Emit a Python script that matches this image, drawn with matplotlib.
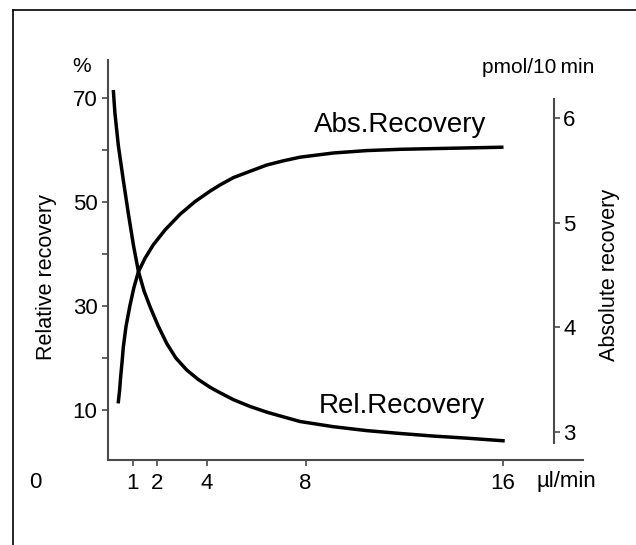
import matplotlib
matplotlib.use('Agg')
import matplotlib.pyplot as plt
from matplotlib.lines import Line2D

# ── Data ─────────────────────────────────────────────────────────────────────
FLOW_REL = [0.22, 0.28, 0.42, 0.62, 0.82, 1.03, 1.23, 1.46, 1.70, 2.03, 2.38, 2.75,
            3.19, 3.65, 4.13, 4.47, 5.08, 5.75, 6.43, 7.10, 7.78, 9.13, 10.48, 11.83,
            13.18, 14.53, 16.0]
REL_RECOVERY = [71.2, 67.1, 60.8, 54.2, 47.9, 41.7, 36.7, 32.9, 29.9, 26.2, 22.8, 20.0,
                17.7, 15.9, 14.4, 13.5, 12.0, 10.7, 9.6, 8.7, 7.8, 6.8, 6.05, 5.5,
                5.0, 4.6, 4.1]

FLOW_ABS = [0.42, 0.47, 0.51, 0.57, 0.62, 0.73, 0.89, 1.05, 1.23, 1.50, 1.84, 2.31,
            2.92, 3.52, 4.13, 4.54, 5.08, 5.75, 6.43, 7.10, 7.78, 9.13, 10.48, 11.83,
            13.85, 15.95]
ABS_RECOVERY = [3.29, 3.40, 3.52, 3.67, 3.81, 4.01, 4.21, 4.38, 4.53, 4.66, 4.79, 4.93,
                5.08, 5.20, 5.30, 5.36, 5.43, 5.49, 5.55, 5.59, 5.625, 5.665, 5.688, 5.70,
                5.71, 5.72]

X_TICKS = [1, 2, 4, 8, 16]
REL_TICKS = [10, 30, 50, 70]
REL_MINOR = [20, 40, 60]
ABS_TICKS = [3, 4, 5, 6]

W, H = 636, 545
FONT = 'Liberation Sans'
SPINE = '#4a4a4a'

plt.rcParams['font.family'] = [FONT, 'DejaVu Sans']


def fx(px):
    return px / W


def fy(py):
    return 1 - py / H


fig = plt.figure(figsize=(W / 100, H / 100), dpi=100)

# outer frame (only top and left edges visible)
fig.add_artist(Line2D([fx(13), fx(13)], [fy(10), 0], transform=fig.transFigure,
                      color='black', lw=1.2))
fig.add_artist(Line2D([fx(13), 1], [fy(10), fy(10)], transform=fig.transFigure,
                      color='black', lw=1.2))

ax = fig.add_axes([fx(108), fy(460), (583 - 108) / W, (460 - 60) / H])
ax.plot(FLOW_REL, REL_RECOVERY, color='black', lw=2.5, solid_joinstyle='round')
ax.set_xlim(0, 19.24)
ax.set_ylim(0.4, 77.3)
for s in ['top', 'right']:
    ax.spines[s].set_visible(False)
for s in ['left', 'bottom']:
    ax.spines[s].set_color(SPINE)
    ax.spines[s].set_linewidth(1.5)
ax.set_xticks(X_TICKS)
ax.set_xticklabels([str(t) for t in X_TICKS])
ax.set_yticks(REL_TICKS)
ax.set_yticks(REL_MINOR, minor=True)
ax.tick_params(which='both', direction='out', length=4.5, width=1.2, color=SPINE,
               labelsize=16, pad=3)
ax.tick_params(axis='x', pad=5)

ax2 = ax.twinx()
ax2.plot(FLOW_ABS, ABS_RECOVERY, color='black', lw=2.5, solid_joinstyle='round')
ax2.set_ylim(2.733, 6.553)
for s in ['top', 'left', 'bottom']:
    ax2.spines[s].set_visible(False)
ax2.spines['right'].set_position(('axes', (554 - 108) / (583 - 108)))
ax2.spines['right'].set_bounds(2.895, 6.18)
ax2.spines['right'].set_color(SPINE)
ax2.spines['right'].set_linewidth(1.5)
ax2.set_yticks(ABS_TICKS)
ax2.tick_params(direction='out', length=4.5, width=1.2, color=SPINE, labelsize=16, pad=2)

# labels and annotations
fig.text(fx(82), fy(66), '%', fontsize=15, ha='center', va='center')
fig.text(fx(538), fy(67), 'pmol/10\u2009min', fontsize=15, ha='center', va='center')
fig.text(fx(47), fy(277), 'Relative recovery', fontsize=15.5, rotation=90,
         ha='center', va='center')
fig.text(fx(610), fy(275), 'Absolute recovery', fontsize=15.5, rotation=90,
         ha='center', va='center')
fig.text(fx(35), fy(482), '0', fontsize=16, ha='center', va='center')
fig.text(fx(566), fy(482), '\u00b5l/min', fontsize=16, ha='center', va='center')
fig.text(fx(400), fy(132), 'Abs.Recovery', fontsize=20, ha='center', va='baseline')
fig.text(fx(402), fy(413), 'Rel.Recovery', fontsize=20, ha='center', va='baseline')

fig.savefig('out.png', dpi=100)
